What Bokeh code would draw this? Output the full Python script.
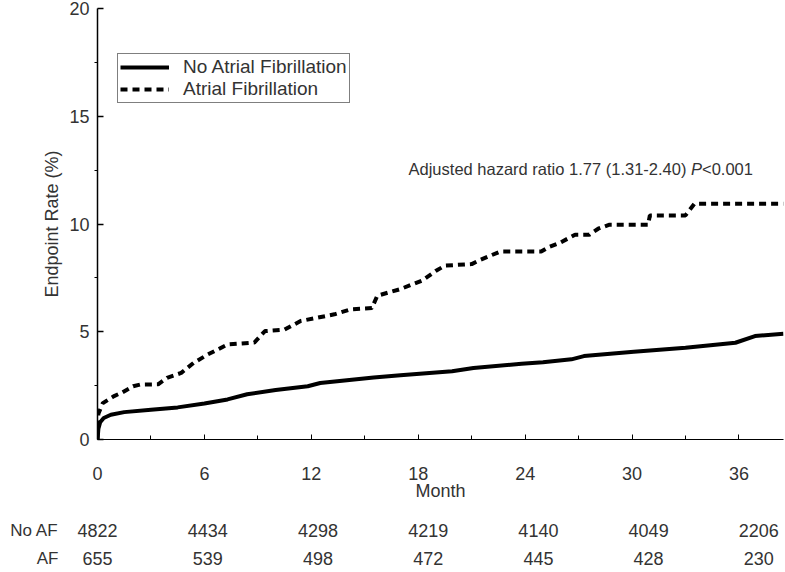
from bokeh.plotting import figure
from bokeh.models import Range1d, FixedTicker, Label
from bokeh.layouts import column
from bokeh.core.properties import value
from bokeh.embed import file_html
from bokeh.resources import INLINE

# ---- data ----
no_af_month = [0, 0.05, 0.15, 0.35, 0.75, 1.5, 3.0, 4.5, 6.0, 7.3, 8.4, 10.0, 11.8, 12.5,
               14.0, 15.5, 17.0, 19.9, 21.1, 23.8, 25.0, 26.6, 27.3, 30.1, 33.0, 35.8,
               36.9, 38.5]
no_af_rate = [0, 0.5, 0.8, 1.0, 1.15, 1.27, 1.38, 1.49, 1.67, 1.86, 2.1, 2.3, 2.47, 2.62,
              2.75, 2.88, 2.98, 3.17, 3.32, 3.51, 3.58, 3.72, 3.87, 4.07, 4.26, 4.49,
              4.8, 4.91]
af_month = [0, 0.05, 0.3, 0.9, 1.4, 2.0, 2.4, 3.4, 3.9, 4.7, 5.4, 6.2, 7.3, 8.8, 9.4,
            10.5, 11.4, 13.3, 14.2, 15.4, 15.7, 17.0, 18.2, 19.0, 19.5, 21.0, 21.5,
            22.6, 24.9, 25.3, 26.0, 26.8, 27.6, 28.1, 28.7, 30.9, 31.0, 33.0, 33.5, 38.5]
af_rate = [0, 1.2, 1.69, 2.0, 2.19, 2.47, 2.55, 2.56, 2.86, 3.09, 3.56, 3.95, 4.41, 4.5,
           5.03, 5.1, 5.5, 5.81, 6.04, 6.1, 6.67, 6.98, 7.37, 7.83, 8.07, 8.14, 8.34,
           8.72, 8.72, 8.92, 9.15, 9.5, 9.5, 9.78, 9.96, 9.96, 10.4, 10.4, 10.94, 10.94]

x_ticks = [0, 6, 12, 18, 24, 30, 36]
y_ticks = [0, 5, 10, 15, 20]
risk_months = [0, 6, 12, 18, 24, 30, 36]
risk_no_af = [4822, 4434, 4298, 4219, 4140, 4049, 2206]
risk_af = [655, 539, 498, 472, 445, 428, 230]
row_names = ["No AF", "AF"]

FONT = "Liberation Sans"
TXT = "#333333"

X_END = 38.5
W = 785
LEFT, RIGHT = 97, 2
PPU = (W - LEFT - RIGHT) / X_END   # pixels per month, shared by both panels

p = figure(width=W, height=510, x_range=Range1d(0, X_END), y_range=Range1d(0, 20),
           output_backend="svg", toolbar_location=None,
           min_border_left=LEFT, min_border_right=RIGHT, min_border_top=8,
           min_border_bottom=71)
p.frame_align = False
p.outline_line_color = None
p.xgrid.visible = False
p.ygrid.visible = False

# y axis
ya = p.yaxis[0]
ya.ticker = FixedTicker(ticks=y_ticks, minor_ticks=[2.5, 7.5, 12.5, 17.5])
ya.major_tick_in = 6
ya.major_tick_out = 0
ya.minor_tick_in = 0
ya.minor_tick_out = 3
ya.axis_line_width = 1.5
ya.major_tick_line_width = 1.5
ya.major_label_text_font = FONT
ya.major_label_text_font_size = "18px"
ya.major_label_text_color = TXT
ya.major_label_standoff = 5
ya.axis_label = "Endpoint Rate (%)"
ya.axis_label_text_font = FONT
ya.axis_label_text_font_style = "normal"
ya.axis_label_text_font_size = "18px"
ya.axis_label_text_color = TXT
ya.axis_label_standoff = 4

# x axis
xa = p.xaxis[0]
xa.ticker = FixedTicker(ticks=x_ticks, minor_ticks=[3, 9, 15, 21, 27, 33])
xa.major_tick_in = 5
xa.major_tick_out = 0
xa.minor_tick_in = 4
xa.minor_tick_out = 0
xa.axis_line_width = 1.2
xa.major_label_text_font = FONT
xa.major_label_text_font_size = "18px"
xa.major_label_text_color = TXT
xa.major_label_standoff = 27
xa.axis_label = "Month"
xa.axis_label_text_font = FONT
xa.axis_label_text_font_style = "normal"
xa.axis_label_text_font_size = "18px"
xa.axis_label_text_color = TXT
xa.axis_label_standoff = -2

# curves
p.line(no_af_month, no_af_rate, line_color="black", line_width=4,
       legend_label="No Atrial Fibrillation")
p.line(af_month, af_rate, line_color="black", line_width=4, line_dash="7 5",
       legend_label="Atrial Fibrillation")

lg = p.legend[0]
lg.location = (20, 336)
lg.border_line_color = "black"
lg.border_line_width = 1.5
lg.padding = 2
lg.spacing = 0
lg.margin = 0
lg.glyph_width = 49
lg.glyph_height = 20
lg.label_height = 20
lg.label_standoff = 14
lg.label_text_font = FONT
lg.label_text_font_size = "19px"
lg.label_text_color = TXT
lg.background_fill_alpha = 1

# hazard ratio annotation (italic P)
HR_X, HR_Y = 33.31, 12.55
p.add_layout(Label(x=HR_X, y=HR_Y, text="Adjusted hazard ratio 1.77 (1.31-2.40) ",
                   text_align="right", text_baseline="middle", text_font=FONT,
                   text_font_size="16.5px", text_color=TXT))
p.add_layout(Label(x=HR_X, y=HR_Y, text="P", text_align="left", text_baseline="middle",
                   text_font=FONT, text_font_size="16.5px", text_font_style="italic",
                   text_color=TXT))
p.add_layout(Label(x=HR_X, y=HR_Y, x_offset=11, text="<0.001", text_align="left",
                   text_baseline="middle", text_font=FONT, text_font_size="16.5px",
                   text_color=TXT))

# ---- number-at-risk table, same horizontal month scale as the plot ----
TH = 62
t = figure(width=W, height=TH, output_backend="svg", toolbar_location=None,
           x_range=Range1d(-LEFT / PPU, X_END + RIGHT / PPU),
           y_range=Range1d((TH - 20) / 28, -20 / 28),
           x_axis_type=None, y_axis_type=None,
           min_border_left=0, min_border_right=0, min_border_top=0, min_border_bottom=0)
t.frame_align = False
t.outline_line_color = None
t.xgrid.visible = False
t.ygrid.visible = False

TABLE_STRETCH = 1.031
for row, vals in enumerate([risk_no_af, risk_af]):
    t.text(x=[m * TABLE_STRETCH for m in risk_months], y=[row] * len(vals),
           text=[str(v) for v in vals], text_align="center", text_baseline="middle",
           text_font=value(FONT), text_font_size=value("18px"), text_color=TXT)
t.text(x=[0, 0], y=[0, 1], text=row_names, x_offset=-39, text_align="right",
       text_baseline="middle", text_font=value(FONT), text_font_size=value("17px"),
       text_color=TXT)

layout = column(p, t, spacing=0)
open("out.html", "w").write(file_html(layout, INLINE))
